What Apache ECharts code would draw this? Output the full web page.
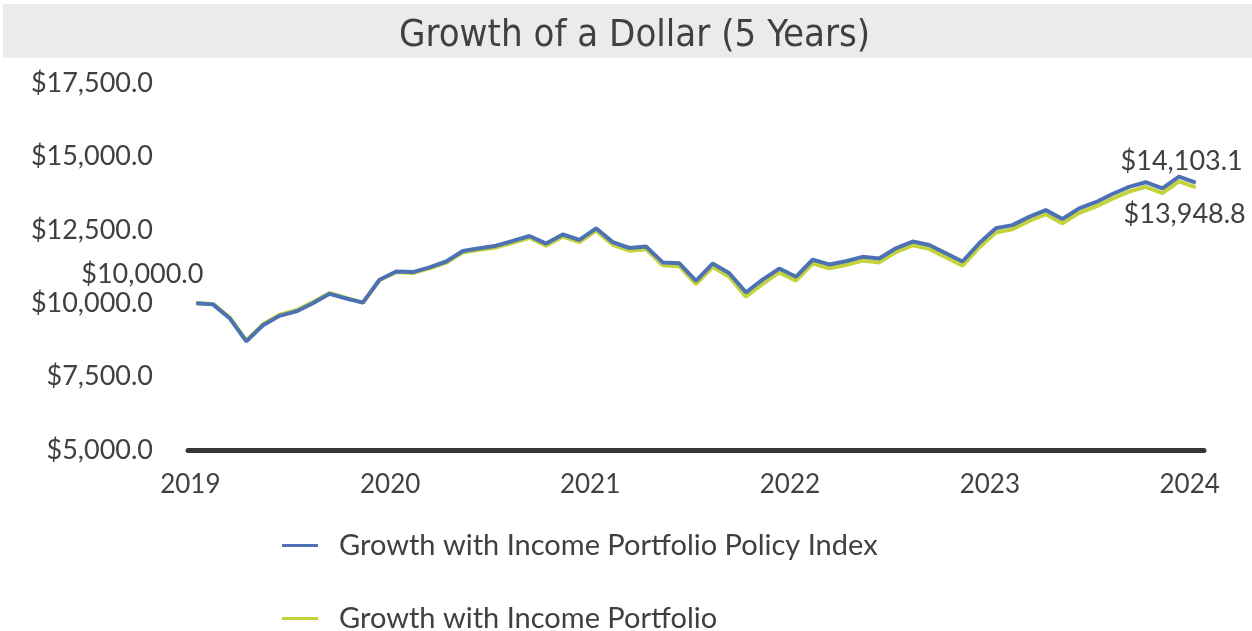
<!DOCTYPE html>
<html><head><meta charset="utf-8">
<script src="https://cdn.jsdelivr.net/npm/echarts@6/dist/echarts.min.js"></script>
<style>html,body{margin:0;padding:0;background:#fff}#chart{width:1252px;height:631px}</style>
</head><body><div id="chart"></div>
<script>
const titleText = 'Growth of a Dollar (5 Years)';
const yearLabels = ['2019','2020','2021','2022','2023','2024'];
const seriesNames = ['Growth with Income Portfolio Policy Index', 'Growth with Income Portfolio'];
const yTickValues = [5000, 7500, 10000, 12500, 15000, 17500];

// month-end points, Jan 2019 .. Jan 2024
const policyIndex = [
  10000, 9960, 9490, 8700, 9250, 9570, 9720, 10000, 10320, 10160, 10020, 10800,
  11080, 11060, 11220, 11420, 11780, 11870, 11960, 12120, 12290, 12030, 12340, 12160,
  12550, 12080, 11880, 11930, 11390, 11360, 10760, 11350, 11020, 10370, 10800, 11180,
  10900, 11480, 11320, 11430, 11580, 11520, 11870, 12100, 11980, 11700, 11420, 12040,
  12550, 12660, 12940, 13170, 12870, 13230, 13440, 13720, 13960, 14120, 13910, 14310,
  14103.1
];
const portfolio = [
  10000, 9970, 9520, 8730, 9280, 9610, 9760, 10040, 10350, 10180, 10020, 10790,
  11060, 11030, 11190, 11380, 11730, 11820, 11900, 12060, 12230, 11960, 12270, 12080,
  12470, 11990, 11790, 11840, 11290, 11260, 10650, 11240, 10900, 10220, 10660, 11050,
  10770, 11350, 11190, 11300, 11450, 11390, 11740, 11970, 11850, 11570, 11280, 11900,
  12410, 12520, 12800, 13030, 12720, 13080, 13290, 13560, 13800, 13960, 13750, 14150,
  13948.8
];

const categories = [];
for (let y = 2019; y <= 2023; y++) for (let m = 1; m <= 12; m++) categories.push(y + '-' + String(m).padStart(2, '0'));
categories.push('2024-01');

const fmt = v => '$' + Number(v).toLocaleString('en-US', {minimumFractionDigits: 1, maximumFractionDigits: 1});
const textColor = '#404040';
const FONT = 'Lato';
const BLUE = '#4d72b4', GREEN = '#c4d23c';

const labelStyle = {show: true, color: textColor, fontSize: 27, fontFamily: FONT, formatter: p => fmt(p.value)};
const last = policyIndex.length - 1;
const indexData = policyIndex.map((v, i) => {
  if (i === 0) return {value: v, label: Object.assign({}, labelStyle, {position: 'top', offset: [-54, -10]})};
  if (i === last) return {value: v, label: Object.assign({}, labelStyle, {position: 'top', offset: [-14, -2]})};
  return v;
});
const portData = portfolio.map((v, i) => {
  if (i === last) return {value: v, label: Object.assign({}, labelStyle, {position: 'bottom', offset: [-11, 8]})};
  return v;
});

const chart = echarts.init(document.getElementById('chart'), null, {renderer: 'canvas'});
chart.setOption({
  animation: false,
  backgroundColor: '#fff',
  graphic: [{type: 'rect', left: 3, top: 4, shape: {width: 1249, height: 54}, style: {fill: '#ebebeb'}, z: -10}],
  title: {text: titleText, left: 394, top: 12,
    textStyle: {fontFamily: '"Liberation Sans Narrow", "DejaVu Sans Condensed", Lato', fontWeight: 'normal', fontSize: 38, color: textColor}},
  legend: {
    orient: 'vertical', left: 282, top: 531, itemGap: 44, padding: 0, height: 120,
    data: seriesNames, icon: 'rect', itemWidth: 36, itemHeight: 3,
    textStyle: {fontFamily: FONT, fontSize: 29, color: textColor, lineHeight: 28, padding: [0, 0, 0, 16]}
  },
  grid: {left: 188, right: 48, top: 83, bottom: 181, containLabel: false},
  xAxis: {
    type: 'category', data: categories, boundaryGap: true,
    axisLine: {show: true, lineStyle: {color: '#3a3636', width: 5}},
    axisTick: {show: false},
    axisLabel: {interval: 11, margin: 22, color: textColor, fontFamily: FONT, fontSize: 26,
      padding: [0, 12, 0, 0], formatter: v => yearLabels[yearLabels.indexOf(v.slice(0, 4))]},
    splitLine: {show: false}
  },
  yAxis: {
    type: 'value', min: yTickValues[0], max: yTickValues[yTickValues.length - 1], interval: 2500,
    axisLine: {show: false}, axisTick: {show: false}, splitLine: {show: false},
    axisLabel: {margin: 35, color: textColor, fontFamily: FONT, fontSize: 27, formatter: v => fmt(v)}
  },
  series: [
    {name: seriesNames[1], type: 'line', data: portData, symbol: 'circle', symbolSize: 1, showSymbol: true, z: 2,
      lineStyle: {color: GREEN, width: 4}, itemStyle: {color: GREEN}},
    {name: seriesNames[0], type: 'line', data: indexData, symbol: 'circle', symbolSize: 1, showSymbol: true, z: 3,
      lineStyle: {color: BLUE, width: 4}, itemStyle: {color: BLUE}}
  ]
});
</script>
</body></html>
